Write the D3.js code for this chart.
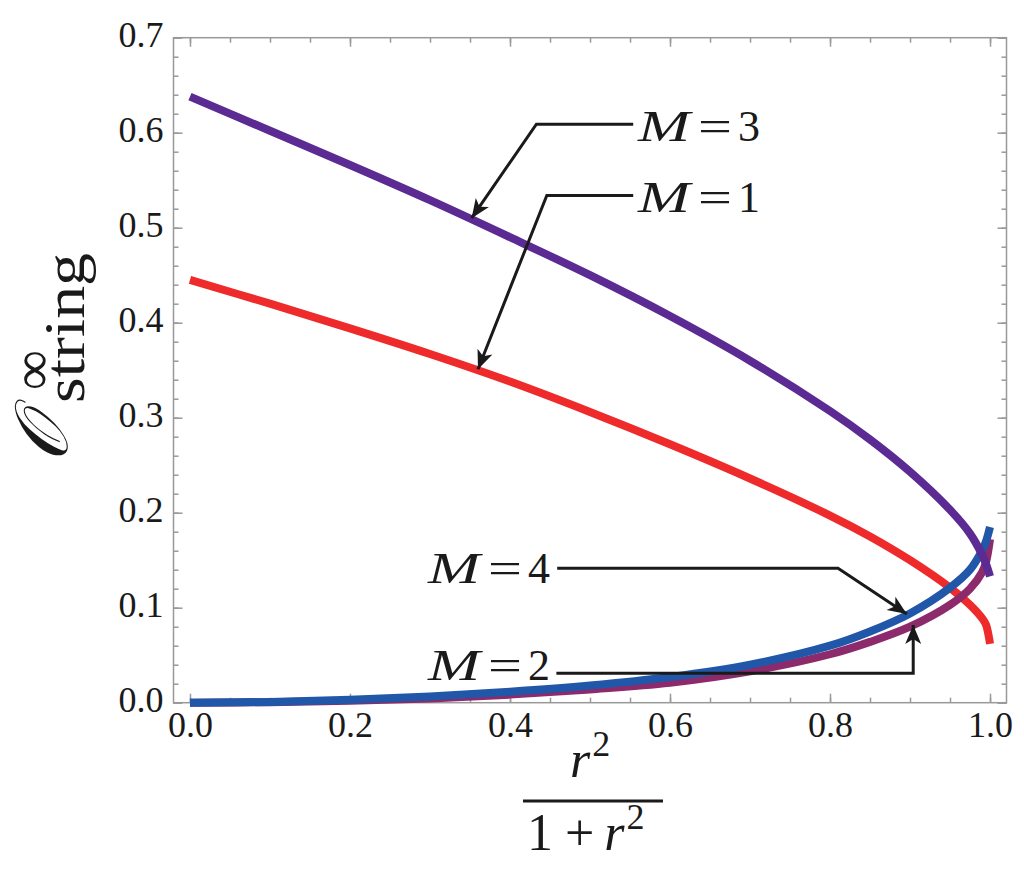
<!DOCTYPE html>
<html>
<head>
<meta charset="utf-8">
<script src="https://cdn.jsdelivr.net/npm/d3@7/dist/d3.min.js"></script>
<style>
  body { margin: 0; background: #fff; }
</style>
</head>
<body>
<div id="chart"></div>
<script>
// values, x = r^2/(1+r^2)
const xVals = [0, 0.1, 0.2, 0.3, 0.4, 0.5, 0.6, 0.7, 0.8, 0.85, 0.9, 0.95, 0.975, 0.99, 0.995, 1.0];
const m1 = [0.445, 0.420, 0.394, 0.367, 0.338, 0.306, 0.272, 0.236, 0.197, 0.175, 0.150, 0.121, 0.103, 0.089, 0.082, 0.062];
const m2 = [0, 0.0005, 0.002, 0.0045, 0.0085, 0.014, 0.021, 0.033, 0.051, 0.064, 0.080, 0.103, 0.120, 0.137, 0.148, 0.172];
const m3 = [0.638, 0.602, 0.566, 0.529, 0.490, 0.450, 0.407, 0.360, 0.307, 0.277, 0.243, 0.203, 0.178, 0.156, 0.146, 0.133];
const m4 = [0, 0.0008, 0.003, 0.0065, 0.0115, 0.018, 0.027, 0.040, 0.060, 0.075, 0.094, 0.121, 0.140, 0.160, 0.170, 0.185];

const xMajor = [0, 0.2, 0.4, 0.6, 0.8, 1.0];
const xMinor = d3.range(0, 1.0001, 0.05);
const yMajor = [0, 0.1, 0.2, 0.3, 0.4, 0.5, 0.6, 0.7];
const yMinor = d3.range(0, 0.7001, 0.02);

// annotation labels: M value, text anchor, leader line points ending at the arrow tip (data units)
const labelM = ["3", "1", "4", "2"];
const labelText = [[0.56, 0.591], [0.56, 0.517], [0.2975, 0.1257], [0.2975, 0.0239]];
const labelLines = [
  [[0.554, 0.609], [0.433, 0.609], [0.352, 0.510]],
  [[0.554, 0.534], [0.446, 0.534], [0.360, 0.351]],
  [[0.459, 0.1415], [0.81, 0.1415], [0.896, 0.0934]],
  [[0.458, 0.031], [0.904, 0.031], [0.904, 0.0818]]
];

const width = 1024;
const height = 869;
const serif = "'Liberation Serif', 'DejaVu Serif', serif";
const ink = '#1a1a1a';

const x = d3.scaleLinear().domain([-0.0206, 1.0206]).range([173.5, 1006.5]);
const y = d3.scaleLinear().domain([0, 0.7]).range([702.7, 37.7]);

const svg = d3.select('#chart').append('svg')
    .attr('width', width)
    .attr('height', height)
    .style('font-family', serif);

// frame
svg.append('rect')
    .attr('x', x.range()[0]).attr('y', y.range()[1])
    .attr('width', x.range()[1] - x.range()[0])
    .attr('height', y.range()[0] - y.range()[1])
    .attr('fill', 'none')
    .attr('stroke', '#999')
    .attr('stroke-width', 1.5);

function styleAxis(g) {
    g.select('.domain').remove();
    g.selectAll('.tick line').attr('stroke', '#999').attr('stroke-width', 1.5);
    g.selectAll('text').attr('font-size', 36).attr('font-family', serif).attr('fill', ink);
}

// bottom
svg.append('g').attr('transform', `translate(0,${y.range()[0]})`)
    .call(d3.axisBottom(x).tickValues(xMinor).tickSize(-5).tickFormat(''))
    .call(styleAxis);
svg.append('g').attr('transform', `translate(0,${y.range()[0]})`)
    .call(d3.axisBottom(x).tickValues(xMajor).tickSize(-9).tickFormat(d3.format('.1f')))
    .call(styleAxis)
    .call(g => g.selectAll('text').attr('y', 34).attr('dy', 0));
// top
svg.append('g').attr('transform', `translate(0,${y.range()[1]})`)
    .call(d3.axisTop(x).tickValues(xMinor).tickSize(-5).tickFormat(''))
    .call(styleAxis);
svg.append('g').attr('transform', `translate(0,${y.range()[1]})`)
    .call(d3.axisTop(x).tickValues(xMajor).tickSize(-9).tickFormat(''))
    .call(styleAxis);
// left
svg.append('g').attr('transform', `translate(${x.range()[0]},0)`)
    .call(d3.axisLeft(y).tickValues(yMinor).tickSize(-5).tickFormat(''))
    .call(styleAxis);
svg.append('g').attr('transform', `translate(${x.range()[0]},0)`)
    .call(d3.axisLeft(y).tickValues(yMajor).tickSize(-9).tickPadding(10).tickFormat(d3.format('.1f')))
    .call(styleAxis)
    .call(g => g.selectAll('text').attr('dy', '0.25em'));
// right
svg.append('g').attr('transform', `translate(${x.range()[1]},0)`)
    .call(d3.axisRight(y).tickValues(yMinor).tickSize(-5).tickFormat(''))
    .call(styleAxis);
svg.append('g').attr('transform', `translate(${x.range()[1]},0)`)
    .call(d3.axisRight(y).tickValues(yMajor).tickSize(-9).tickFormat(''))
    .call(styleAxis);

// curves
const series = [
    {name: 'M=1', values: m1, color: '#ee2a2a'},
    {name: 'M=2', values: m2, color: '#8c2a6c'},
    {name: 'M=4', values: m4, color: '#2157a8'},
    {name: 'M=3', values: m3, color: '#5b2a92'}
];

const line = d3.line()
    .x(d => x(d[0]))
    .y(d => y(d[1]))
    .curve(d3.curveCatmullRom.alpha(0.5));

svg.append('g').selectAll('.curve')
    .data(series)
    .enter()
    .append('path')
    .attr('class', 'curve')
    .attr('d', d => line(xVals.map((v, i) => [v, d.values[i]])))
    .attr('fill', 'none')
    .attr('stroke', d => d.color)
    .attr('stroke-width', 8);

// annotations
const leader = d3.line().x(d => x(d[0])).y(d => y(d[1]));
labelM.forEach((m, i) => {
    const pts = labelLines[i];
    svg.append('path')
        .attr('d', leader(pts))
        .attr('fill', 'none')
        .attr('stroke', ink)
        .attr('stroke-width', 3);

    // arrow head at the tip
    const tip = pts[pts.length - 1];
    const prev = pts[pts.length - 2];
    const ang = Math.atan2(y(tip[1]) - y(prev[1]), x(tip[0]) - x(prev[0])) * 180 / Math.PI;
    svg.append('path')
        .attr('d', 'M0,0 L-19,-8 L-14,0 L-19,8 Z')
        .attr('fill', ink)
        .attr('transform', `translate(${x(tip[0])},${y(tip[1])}) rotate(${ang})`);

    const tx = x(labelText[i][0]);
    const ty = y(labelText[i][1]);
    const lab = svg.append('g').attr('fill', ink).attr('font-size', 44);
    lab.append('text').attr('x', tx).attr('y', ty)
        .attr('font-style', 'italic')
        .attr('textLength', 52).attr('lengthAdjust', 'spacingAndGlyphs')
        .text('M');
    lab.append('text').attr('x', tx + 60).attr('y', ty)
        .attr('textLength', 34).attr('lengthAdjust', 'spacingAndGlyphs')
        .text('=');
    lab.append('text').attr('x', tx + 100).attr('y', ty)
        .text(m);
});

// y axis title, rotated
const yt = svg.append('g').attr('transform', 'translate(67,462) rotate(-90)').attr('fill', ink);
yt.append('text')
    .attr('x', 0).attr('y', 0)
    .attr('font-size', 74)
    .attr('font-style', 'italic')
    .text('\u{1D4AA}');
yt.append('text')
    .attr('x', 72).attr('y', -16)
    .attr('font-size', 56)
    .text('\u221E');
yt.append('text')
    .attr('x', 59).attr('y', 17)
    .attr('font-size', 56)
    .attr('textLength', 150)
    .attr('lengthAdjust', 'spacingAndGlyphs')
    .text('string');

// x axis title: r^2 / (1 + r^2)
const xt = svg.append('g').attr('fill', ink).attr('font-size', 52);
const num = xt.append('text').attr('x', 570).attr('y', 777);
num.append('tspan').attr('font-style', 'italic').text('r');
num.append('tspan').attr('font-size', 36).attr('dx', 2).attr('dy', -21).text('2');
xt.append('line')
    .attr('x1', 523).attr('x2', 663)
    .attr('y1', 801).attr('y2', 801)
    .attr('stroke', ink).attr('stroke-width', 3);
const den = xt.append('text').attr('x', 527).attr('y', 850);
den.append('tspan').text('1');
den.append('tspan').attr('dx', 12).text('+');
den.append('tspan').attr('dx', 10).attr('font-style', 'italic').text('r');
den.append('tspan').attr('font-size', 36).attr('dx', 2).attr('dy', -21).text('2');
</script>
</body>
</html>
